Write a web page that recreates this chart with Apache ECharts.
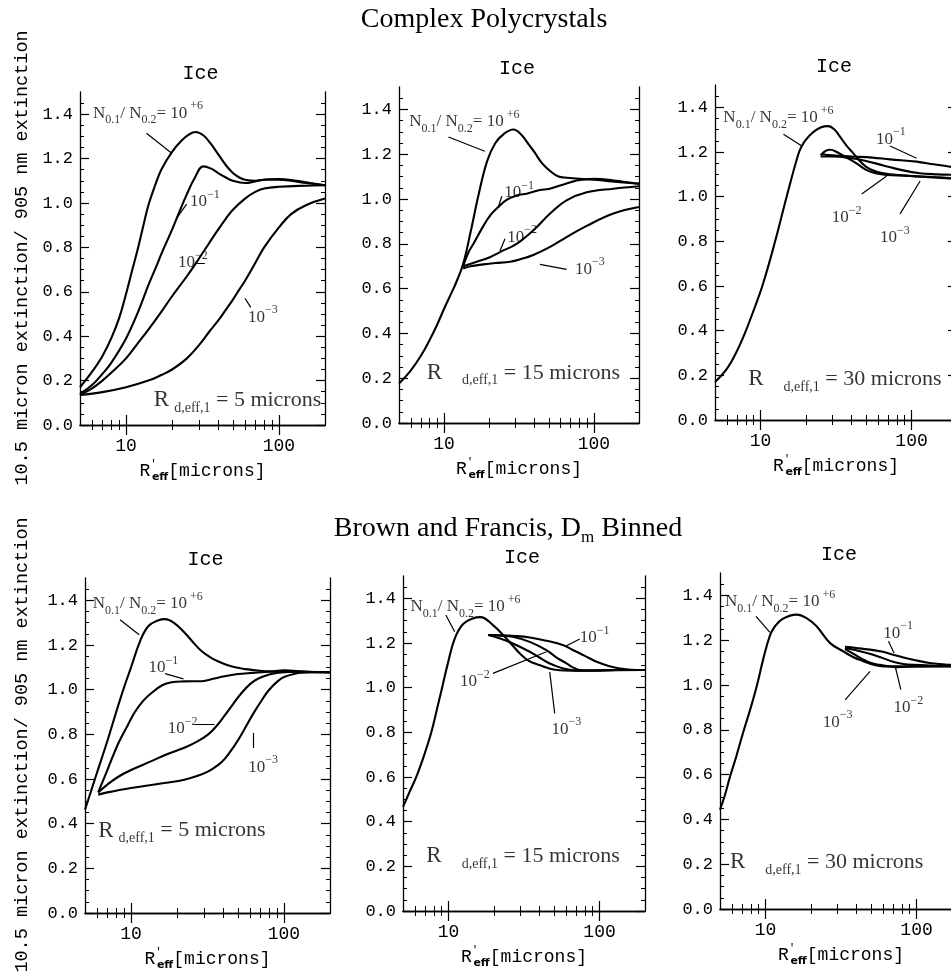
<!DOCTYPE html>
<html><head><meta charset="utf-8">
<script src="https://cdn.jsdelivr.net/npm/echarts@6/dist/echarts.min.js"></script>
<style>html,body{margin:0;padding:0;background:#fff}#c{width:951px;height:972px}</style>
</head><body><div id="c"></div><script>
// ---------- tick values / labels ----------
const xMajorTicks = [10, 100];
const xMinorTicks = [6, 7, 8, 9, 20, 30, 40, 50, 60, 70, 80, 90];
const yMajorTicks = [0, 0.2, 0.4, 0.6, 0.8, 1.0, 1.2, 1.4];
const yMinorTicks = [0.05,0.1,0.15,0.25,0.3,0.35,0.45,0.5,0.55,0.65,0.7,0.75,0.85,0.9,0.95,1.05,1.1,1.15,1.25,1.3,1.35,1.45];
const rowTitles = ['Complex Polycrystals', 'Brown and Francis, D'];
const panelTitle = 'Ice';
const yTitle = '10.5 micron extinction/ 905 nm extinction';
const rValues = ['5', '15', '30', '5', '15', '30'];

// ---------- data: [R'eff (microns), ratio] ----------
// Complex Polycrystals, R d,eff,1 = 5
const p1_e6 = [[5,0.17],[6,0.24],[7,0.31],[8,0.39],[9,0.48],[10,0.59],[11,0.70],[12,0.80],[13,0.90],[14,0.99],[15.5,1.08],[17,1.15],[20,1.23],[23,1.28],[26,1.31],[28.5,1.32],[32,1.305],[36,1.265],[40,1.22],[45,1.17],[50,1.135],[55,1.115],[60,1.105],[70,1.10],[85,1.107],[100,1.108],[130,1.10],[160,1.09],[200,1.08]];
const p1_m1 = [[5,0.14],[6,0.18],[7,0.23],[8,0.28],[10,0.39],[12,0.51],[14,0.63],[15.9,0.72],[17,0.77],[20,0.88],[22,0.95],[25,1.04],[28,1.11],[32,1.165],[36,1.155],[40,1.135],[45,1.115],[50,1.10],[60,1.09],[70,1.097],[80,1.105],[100,1.105],[150,1.09],[200,1.08]];
const p1_m2 = [[5,0.135],[6,0.165],[7,0.20],[8,0.235],[10,0.30],[12,0.37],[14,0.43],[17,0.51],[20,0.58],[25,0.67],[30,0.75],[35,0.82],[40,0.88],[45,0.93],[50,0.97],[60,1.02],[70,1.05],[80,1.065],[100,1.073],[150,1.078],[200,1.08]];
const p1_m3 = [[5,0.135],[7,0.148],[10,0.17],[14,0.20],[17,0.225],[20,0.25],[25,0.30],[30,0.36],[35,0.42],[40,0.47],[45,0.52],[50,0.565],[55,0.61],[60,0.65],[70,0.73],[80,0.80],[100,0.89],[120,0.95],[150,0.99],[200,1.02]];
// Complex Polycrystals, R d,eff,1 = 15
const p2_e6 = [[5,0.176],[6,0.235],[7,0.30],[8,0.37],[9,0.44],[10,0.51],[11,0.57],[12,0.625],[13.4,0.71],[15,0.85],[17,1.02],[19.4,1.17],[22,1.25],[25,1.29],[29,1.31],[33,1.285],[37,1.24],[40,1.21],[45,1.16],[51,1.125],[58,1.10],[66,1.095],[80,1.09],[100,1.086],[150,1.075],[200,1.068]];
const p2_m1 = [[13.4,0.70],[14.5,0.76],[15.7,0.80],[18.3,0.88],[20.5,0.93],[23,0.964],[26,0.995],[30.5,1.016],[36,1.025],[43.6,1.04],[50,1.045],[59.4,1.06],[70,1.075],[80.7,1.085],[100,1.09],[130,1.085],[200,1.068]];
const p2_m2 = [[13.4,0.70],[16.5,0.72],[20.2,0.74],[23.6,0.763],[30.5,0.80],[39.4,0.86],[51,0.935],[65.7,0.994],[89.5,1.03],[135,1.046],[200,1.057]];
const p2_m3 = [[13.4,0.69],[15,0.70],[18.3,0.708],[22,0.714],[27.6,0.72],[33,0.733],[39.4,0.75],[51,0.786],[65.7,0.83],[89.5,0.88],[135,0.935],[200,0.964]];
// Complex Polycrystals, R d,eff,1 = 30
const p3_e6 = [[5,0.17],[6,0.23],[7,0.31],[7.9,0.39],[9,0.49],[10.4,0.61],[12.5,0.80],[14.9,1.0],[17.8,1.19],[18.8,1.227],[20,1.255],[22,1.285],[25,1.31],[28.1,1.316],[31,1.30],[33.6,1.269],[37,1.23],[41.2,1.194],[47,1.15],[53.2,1.123],[65,1.105],[90,1.095],[130,1.087],[180,1.082],[200,1.08]];
const p3_m1 = [[25.5,1.19],[30,1.185],[40,1.18],[55,1.175],[72,1.167],[108,1.157],[140,1.145],[180,1.134],[200,1.128]];
const p3_m2 = [[25,1.185],[27,1.205],[29,1.21],[32,1.20],[36,1.18],[43,1.15],[50,1.12],[58,1.105],[68.5,1.097],[90,1.094],[120,1.09],[180,1.083],[200,1.08]];
const p3_m3 = [[25,1.18],[30,1.18],[40,1.172],[50,1.16],[65,1.14],[85,1.12],[113,1.105],[150,1.10],[180,1.098],[200,1.097]];
// Brown and Francis, R d,eff,1 = 5
const p4_e6 = [[5,0.463],[5.5,0.55],[6,0.63],[7,0.77],[8,0.90],[9,1.01],[10,1.10],[11.5,1.22],[13,1.285],[15,1.31],[16.7,1.316],[19,1.30],[22.5,1.254],[26,1.205],[29,1.172],[33,1.145],[37,1.127],[42,1.112],[48,1.10],[56,1.092],[65,1.087],[82,1.082],[100,1.087],[140,1.08],[200,1.078]];
const p4_m1 = [[6.1,0.54],[7,0.64],[8.26,0.76],[9.5,0.84],[10.6,0.90],[12,0.95],[13.6,0.985],[16,1.02],[18.4,1.033],[22.3,1.037],[29,1.038],[35,1.05],[41,1.06],[50,1.07],[61.5,1.075],[80,1.08],[97,1.082],[140,1.08],[200,1.078]];
const p4_m2 = [[6.1,0.54],[7,0.575],[8.26,0.61],[10,0.64],[13.6,0.68],[17,0.71],[22.3,0.74],[27,0.767],[32,0.80],[36,0.835],[41,0.885],[47,0.94],[52.8,0.985],[60,1.025],[68,1.05],[80,1.068],[92,1.076],[124,1.08],[200,1.078]];
const p4_m3 = [[6.1,0.53],[7,0.54],[8.26,0.55],[10,0.56],[13.6,0.573],[17,0.583],[22.3,0.597],[27,0.613],[32,0.634],[37,0.662],[41,0.69],[47,0.745],[52.8,0.80],[58,0.85],[64.6,0.905],[72,0.955],[79,0.995],[90,1.035],[101,1.058],[131,1.076],[200,1.078]];
// Brown and Francis, R d,eff,1 = 15
const p5_e6 = [[5,0.466],[5.5,0.53],[6.2,0.61],[7,0.71],[7.7,0.80],[8.3,0.89],[9,0.99],[10,1.12],[11,1.22],[12.5,1.285],[14.5,1.31],[16.3,1.316],[19.7,1.28],[23.6,1.228],[26.5,1.19],[29.7,1.153],[34,1.12],[40.3,1.10],[47,1.085],[54.6,1.078],[72,1.076],[100,1.078],[200,1.079]];
const p5_m1 = [[18.3,1.236],[22,1.235],[26.7,1.232],[34.5,1.225],[44.5,1.21],[57.6,1.19],[66,1.17],[74.3,1.153],[85,1.133],[95.8,1.116],[115,1.097],[136.6,1.086],[186,1.079],[200,1.079]];
const p5_m2 = [[18.3,1.236],[22,1.233],[26.7,1.228],[34.5,1.205],[44.5,1.168],[52,1.135],[60.4,1.109],[67,1.09],[74,1.079],[90,1.077],[130,1.079],[200,1.079]];
const p5_m3 = [[18.3,1.236],[22,1.22],[26.7,1.198],[34.5,1.161],[40,1.135],[44.5,1.116],[50,1.1],[57.6,1.086],[72,1.076],[90,1.076],[130,1.079],[200,1.079]];
// Brown and Francis, R d,eff,1 = 30
const p6_e6 = [[5,0.443],[5.4,0.51],[5.82,0.59],[6.4,0.68],[7.1,0.786],[8,0.90],[8.75,0.994],[9.7,1.12],[10.7,1.22],[11.5,1.26],[13,1.295],[16.1,1.314],[19,1.295],[21.8,1.262],[26.8,1.187],[32.8,1.15],[38,1.125],[44.5,1.106],[52,1.09],[60.4,1.083],[100,1.083],[200,1.083]];
const p6_m1 = [[33.6,1.17],[40,1.165],[49,1.158],[60,1.148],[70,1.135],[82,1.123],[95,1.113],[122,1.098],[166,1.09],[200,1.088]];
const p6_m2 = [[33.6,1.165],[40,1.155],[49,1.14],[60,1.12],[70,1.104],[82,1.094],[95,1.09],[130,1.087],[200,1.085]];
const p6_m3 = [[33.6,1.16],[38,1.14],[44.5,1.113],[50,1.098],[57,1.09],[65,1.084],[74,1.08],[100,1.083],[200,1.084]];

const panelSeries = [
  [p1_e6, p1_m1, p1_m2, p1_m3],
  [p2_e6, p2_m1, p2_m2, p2_m3],
  [p3_e6, p3_m1, p3_m2, p3_m3],
  [p4_e6, p4_m1, p4_m2, p4_m3],
  [p5_e6, p5_m1, p5_m2, p5_m3],
  [p6_e6, p6_m1, p6_m2, p6_m3]
];

// ---------- layout (pixel boxes, annotation anchors in data coords) ----------
const grids = [
  {left:80, top:92, width:245, height:333},
  {left:399, top:87, width:240, height:336},
  {left:715, top:85, width:242, height:335},
  {left:85, top:578, width:245, height:335},
  {left:403, top:576, width:242, height:335},
  {left:720, top:573, width:242, height:336}
];
const annot = [
  {N:[6.08,1.405], m1:[26.2,1.005], m2:[21.9,0.73], m3:[62.8,0.486], R:[15.2,0.113], gap:false,
   ptr:[[[13.6,1.314],[19.9,1.224]],[[21.4,0.931],[24.9,0.995]],[[29.1,0.73],[32.8,0.73]],[[60,0.571],[65.3,0.53]]]},
  {N:[5.86,1.344], m1:[25.2,1.028], m2:[26.4,0.83], m3:[74.8,0.686], R:[7.65,0.224], gap:true,
   ptr:[[[10.7,1.277],[18.7,1.213]],[[23.0,0.964],[24.3,1.012]],[[23.6,0.768],[25.5,0.823]],[[43.6,0.708],[65.7,0.686]]]},
  {N:[5.68,1.355], m1:[58.2,1.258], m2:[29.6,0.907], m3:[61.9,0.817], R:[8.3,0.183], gap:true,
   ptr:[[[14.2,1.279],[18.8,1.227]],[[72.1,1.227],[108,1.172]],[[46.8,1.012],[68.5,1.093]],[[84,0.923],[114,1.07]]]},
  {N:[5.61,1.385], m1:[13.0,1.097], m2:[17.4,0.825], m3:[58.5,0.653], R:[6.1,0.369], gap:false,
   ptr:[[[8.47,1.313],[11.3,1.246]],[[16.7,1.072],[22.0,1.048]],[[26.2,0.843],[35.1,0.843]],[[63.1,0.806],[63.1,0.739]]]},
  {N:[5.6,1.363], m1:[74,1.225], m2:[11.9,1.026], m3:[48.1,0.814], R:[7.14,0.246], gap:true,
   ptr:[[[9.6,1.325],[11.0,1.25]],[[60.4,1.188],[74,1.218]],[[19.7,1.064],[44.6,1.161]],[[46.8,1.071],[50.5,0.885]]]},
  {N:[5.4,1.371], m1:[60.3,1.232], m2:[70.3,0.90], m3:[23.9,0.834], R:[5.82,0.209], gap:true,
   ptr:[[[8.66,1.306],[10.7,1.235]],[[65.2,1.195],[71,1.143]],[[72.1,1.086],[78.7,0.979]],[[33.7,0.934],[49.2,1.061]]]}
];

const HERSHEY = 'Liberation Mono';
const TIMES = 'Liberation Serif';
const INK = '#000';

const chart = echarts.init(document.getElementById('c'), null, {renderer:'canvas'});
const xAxes = [], yAxes = [], series = [], gridOpts = [], graphics = [];

const annRich = {
  n:{fontFamily:TIMES, fontSize:17, lineHeight:26, verticalAlign:'middle', color:'#000'},
  sub:{fontFamily:TIMES, fontSize:12, lineHeight:12, verticalAlign:'bottom', color:'#000'},
  sup:{fontFamily:TIMES, fontSize:12, lineHeight:12, verticalAlign:'top', color:'#000'},
  R:{fontFamily:TIMES, fontSize:23, lineHeight:30, verticalAlign:'middle', color:'#000'},
  Rs:{fontFamily:TIMES, fontSize:14, lineHeight:14, verticalAlign:'bottom', color:'#000', padding:[0,0,0,5]},
  Rg:{fontFamily:TIMES, fontSize:14, lineHeight:14, verticalAlign:'bottom', color:'#000', padding:[0,0,0,20]},
  Rt:{fontFamily:TIMES, fontSize:22, lineHeight:30, verticalAlign:'middle', color:'#000'}
};

grids.forEach((g, i) => {
  gridOpts.push(Object.assign({containLabel:false, outerBoundsMode:'none'}, g));
  const axLine = {show:true, lineStyle:{color:'#000', width:1.3}};
  const base = {gridIndex:i, type:'log', logBase:10, min:5, max:200, splitLine:{show:false}, minorTick:{show:false}, silent:true};
  xAxes.push(Object.assign({}, base, {
    position:'bottom', axisLine:axLine,
    axisTick:{show:true, inside:true, length:10, customValues:xMajorTicks, lineStyle:{color:'#000', width:1.2}},
    axisLabel:{show:true, customValues:xMajorTicks, margin:12, color:INK, fontFamily:HERSHEY, fontSize:18},
    name:'{r|R}{p|\u2032}{e|eff}{t|[microns]}', nameLocation:'middle', nameGap:34,
    nameTextStyle:{rich:{
      r:{fontFamily:HERSHEY, fontSize:18, lineHeight:24, verticalAlign:'middle', color:INK},
      p:{fontFamily:HERSHEY, fontSize:11, lineHeight:11, verticalAlign:'top', color:INK},
      e:{fontFamily:'DejaVu Sans', fontWeight:'bold', fontSize:11, lineHeight:11, verticalAlign:'bottom', color:INK, padding:[0,0,0,-5]},
      t:{fontFamily:HERSHEY, fontSize:18, lineHeight:24, verticalAlign:'middle', color:INK}
    }}
  }));
  xAxes.push(Object.assign({}, base, {
    position:'bottom', axisLine:{show:false},
    axisTick:{show:true, inside:true, length:5, customValues:xMinorTicks, lineStyle:{color:'#000', width:1}},
    axisLabel:{show:false}
  }));
  xAxes.push(Object.assign({}, base, {
    position:'top', axisLine:axLine,
    axisTick:{show:true, inside:true, length:10, customValues:xMajorTicks, lineStyle:{color:'#000', width:1.2}},
    axisLabel:{show:false}
  }));
  xAxes.push(Object.assign({}, base, {
    position:'top', axisLine:{show:false},
    axisTick:{show:true, inside:true, length:5, customValues:xMinorTicks, lineStyle:{color:'#000', width:1}},
    axisLabel:{show:false}
  }));
  const ybase = {gridIndex:i, type:'value', min:0, max:1.5, splitLine:{show:false}, minorTick:{show:false}, silent:true};
  yAxes.push(Object.assign({}, ybase, {
    position:'left', axisLine:axLine,
    axisTick:{show:true, inside:true, length:9, customValues:yMajorTicks, lineStyle:{color:'#000', width:1.2}},
    axisLabel:{show:true, customValues:yMajorTicks, formatter:v => Number(v).toFixed(1), margin:7, color:INK, fontFamily:HERSHEY, fontSize:17}
  }));
  yAxes.push(Object.assign({}, ybase, {
    position:'left', axisLine:{show:false},
    axisTick:{show:true, inside:true, length:4, customValues:yMinorTicks, lineStyle:{color:'#000', width:1}},
    axisLabel:{show:false}
  }));
  yAxes.push(Object.assign({}, ybase, {
    position:'right', axisLine:axLine,
    axisTick:{show:true, inside:true, length:9, customValues:yMajorTicks, lineStyle:{color:'#000', width:1.2}},
    axisLabel:{show:false}
  }));
  yAxes.push(Object.assign({}, ybase, {
    position:'right', axisLine:{show:false},
    axisTick:{show:true, inside:true, length:4, customValues:yMinorTicks, lineStyle:{color:'#000', width:1}},
    axisLabel:{show:false}
  }));

  const xi = 4*i, yi = 4*i;
  panelSeries[i].forEach(d => {
    series.push({type:'line', xAxisIndex:xi, yAxisIndex:yi, data:d, symbol:'none', showSymbol:false,
      smooth:0.4, lineStyle:{color:'#000', width:2.1}, silent:true, animation:false, z:3});
  });
  const a = annot[i];
  const rTxt = a.gap ? '{R|R}{Rg|d,eff,1}{Rt| = ' + rValues[i] + ' microns}' : '{R|R}{Rs|d,eff,1}{Rt| = ' + rValues[i] + ' microns}';
  series.push({type:'scatter', xAxisIndex:xi, yAxisIndex:yi, symbolSize:0, silent:true, animation:false, z:5,
    label:{show:true, position:'right', distance:0, color:'#000', textBorderWidth:0, rich:annRich},
    data:[
      {value:a.N, label:{formatter:'{n|N}{sub|0.1}{n|/ N}{sub|0.2}{n|= 10}{sup| +6}'}},
      {value:a.m1, label:{formatter:'{n|10}{sup|\u22121}'}},
      {value:a.m2, label:{formatter:'{n|10}{sup|\u22122}'}},
      {value:a.m3, label:{formatter:'{n|10}{sup|\u22123}'}},
      {value:a.R, label:{formatter:rTxt}}
    ]});
  series.push({type:'lines', coordinateSystem:'cartesian2d', xAxisIndex:xi, yAxisIndex:yi, silent:true, animation:false, z:4,
    symbol:'none', lineStyle:{color:'#000', width:1.2, curveness:0, opacity:1},
    data:a.ptr.map(p => ({coords:p}))});

  graphics.push({type:'text', x:g.left + g.width/2 - 2, y:g.top - 18, silent:true,
    style:{text:panelTitle, fontFamily:HERSHEY, fontSize:20, fill:INK, align:'center', verticalAlign:'middle'}});
});

graphics.push({type:'text', x:484, y:20, silent:true,
  style:{text:rowTitles[0], fontFamily:TIMES, fontSize:28, fill:'#000', align:'center', verticalAlign:'middle'}});
graphics.push({type:'text', x:508, y:529, silent:true,
  style:{text:'{a|' + rowTitles[1] + '}{s|m}{a| Binned}', align:'center', verticalAlign:'middle',
    rich:{a:{fontFamily:TIMES, fontSize:28, lineHeight:34, verticalAlign:'middle', fill:'#000', color:'#000'},
          s:{fontFamily:TIMES, fontSize:17, lineHeight:17, verticalAlign:'bottom', fill:'#000', color:'#000'}}}});
graphics.push({type:'text', x:22, y:258, rotation:Math.PI/2, silent:true,
  style:{text:yTitle, fontFamily:HERSHEY, fontSize:18.5, fill:INK, align:'center', verticalAlign:'middle'}});
graphics.push({type:'text', x:22, y:745, rotation:Math.PI/2, silent:true,
  style:{text:yTitle, fontFamily:HERSHEY, fontSize:18.5, fill:INK, align:'center', verticalAlign:'middle'}});

chart.setOption({
  animation:false,
  backgroundColor:'#fff',
  grid:gridOpts,
  xAxis:xAxes,
  yAxis:yAxes,
  series:series,
  graphic:graphics
});
</script></body></html>
